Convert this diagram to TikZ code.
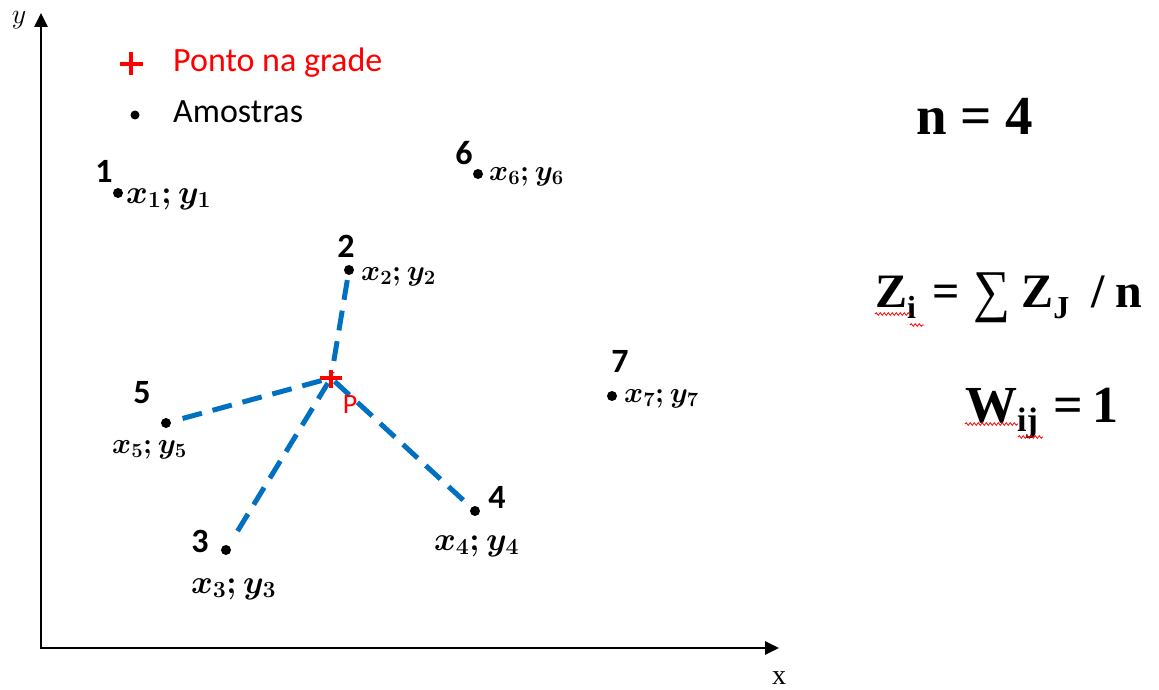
\RequirePackage{fix-cm}
\documentclass[tikz,border=0pt]{standalone}
\usepackage{amsmath}
\usepackage{graphicx}
\usepackage{fontspec}
\newfontfamily\calibri{Carlito}
\newfontfamily\timesf{Liberation Serif}
\usetikzlibrary{arrows.meta,decorations.pathmorphing}
\definecolor{dashblue}{RGB}{0,112,192}
\definecolor{pred}{RGB}{255,0,0}
\tikzset{
  axis/.style={line width=2.8pt, {Triangle[length=14pt,width=13pt]}-{Triangle[length=14pt,width=13pt]}},
  dot/.style={circle, fill=black, inner sep=0pt, minimum size=10pt},
  num/.style={font=\calibri\bfseries\fontsize{34}{34}\selectfont, inner sep=0pt},
  biglab/.style={font=\fontsize{33}{33}\selectfont\boldmath, inner sep=0pt, anchor=base west},
  smalllab/.style={font=\fontsize{29}{29}\selectfont\boldmath, inner sep=0pt, anchor=base west},
  link/.style={draw=dashblue, line width=5pt, dash pattern=on 20pt off 11pt},
  legend/.style={font=\calibri\fontsize{34}{34}\selectfont, inner sep=0pt, anchor=base west},
  eq/.style={font=\timesf\bfseries\fontsize{48}{48}\selectfont, inner sep=0pt, anchor=base west},
  plusmark/.style={draw=pred, line width=3.5pt},
  spell/.style={draw=pred, line width=0.8pt, decorate, decoration={snake, amplitude=1.3pt, segment length=4pt}}
}
\newsavebox\sumglyph
\newcommand{\bigsum}{\sbox\sumglyph{\mdseries ∑}%
  \raisebox{-16pt}{\resizebox{37pt}{50pt}{\raisebox{\dp\sumglyph}{\usebox\sumglyph}}}}
\newcommand{\zsub}[1]{\raisebox{-11pt}{\fontsize{32}{32}\selectfont #1}}
\newcommand{\wsub}[1]{\raisebox{-9pt}{\fontsize{34}{34}\selectfont #1}}
\begin{document}
\begin{tikzpicture}[x=1pt,y=-1pt]
\useasboundingbox (0,0) rectangle (1159,690);
% axes
\coordinate (origin) at (41,648);
\coordinate (ytip) at (41,13);
\coordinate (xtip) at (779,648);
\draw[axis] (ytip) -- (origin) -- (xtip);
\node[font=\fontsize{28}{28}\selectfont, inner sep=0pt] (ylab) at (19,20) {$y$};
\node[font=\timesf\fontsize{28}{28}\selectfont, inner sep=0pt] (xlab) at (779,678) {x};

% legend
\coordinate (lplus) at (131,64);
\draw[plusmark] ([xshift=-11.5pt]lplus) -- ([xshift=11.5pt]lplus);
\draw[plusmark] ([yshift=-11.5pt]lplus) -- ([yshift=11.5pt]lplus);
\node[legend, text=pred] (legplus) at (173,72) {Ponto na grade};
\node[dot, minimum size=9pt] (ldot) at (135,115) {};
\node[legend] (legdot) at (173,123) {Amostras};

% samples
\node[dot] (d1) at (118,193) {};
\node[num] (n1) at (104,171) {1};
\node[biglab] (l1) at (126,203) {$x_1;y_1$};

\node[dot] (d2) at (349,270) {};
\node[num] (n2) at (346,246) {2};
\node[smalllab] (l2) at (361,280) {$x_2;y_2$};

\node[dot] (d3) at (226,550) {};
\node[num] (n3) at (200,541) {3};
\node[biglab] (l3) at (191,593) {$x_3;y_3$};

\node[dot] (d4) at (475,511) {};
\node[num] (n4) at (497,497) {4};
\node[biglab] (l4) at (434,550) {$x_4;y_4$};

\node[dot] (d5) at (166,423) {};
\node[num] (n5) at (142,393) {5};
\node[smalllab] (l5) at (112,453) {$x_5;y_5$};

\node[dot] (d6) at (478,174) {};
\node[num] (n6) at (464,153) {6};
\node[smalllab] (l6) at (489,180) {$x_6;y_6$};

\node[dot] (d7) at (612,396) {};
\node[num] (n7) at (620,361) {7};
\node[smalllab] (l7) at (624,402) {$x_7;y_7$};

% grid point P
\coordinate (P) at (331,378);
% dashed connectors
\draw[link, shorten <=5pt, shorten >=5pt] (d2) -- (P);
\draw[link, shorten <=12pt, shorten >=2pt] (d5) -- (P);
\draw[link, shorten <=17pt, shorten >=6pt] (d3) -- (P);
\draw[link, shorten <=5pt, shorten >=7pt] (P) -- (d4);
\draw[plusmark] ([xshift=-11pt]P) -- ([xshift=11pt]P);
\draw[plusmark] ([yshift=-10pt]P) -- ([yshift=8pt]P);
\node[font=\calibri\fontsize{28}{28}\selectfont, text=pred, inner sep=0pt] (Plab) at (350,405) {P};

% equations
\node[eq, font=\timesf\bfseries\fontsize{55}{55}\selectfont] (eqn) at (916,135) {n = 4};
\node[eq] (eqz) at (875,307) {Z\zsub{i}\hspace{16pt}=\hspace{14pt}\bigsum\hspace{11pt}Z\zsub{J}\hspace{22pt}/\hspace{11pt}n};
\node[eq, font=\timesf\bfseries\fontsize{52}{52}\selectfont] (eqw) at (965,422) {W\wsub{ij}\hspace{16pt}=\hspace{9pt}1};
\draw[spell] (875,314) -- (911,314);
\draw[spell] (910,325) -- (924,325);
\draw[spell] (965,424) -- (1018,424);
\draw[spell] (1018,437) -- (1043,437);
\end{tikzpicture}
\end{document}
